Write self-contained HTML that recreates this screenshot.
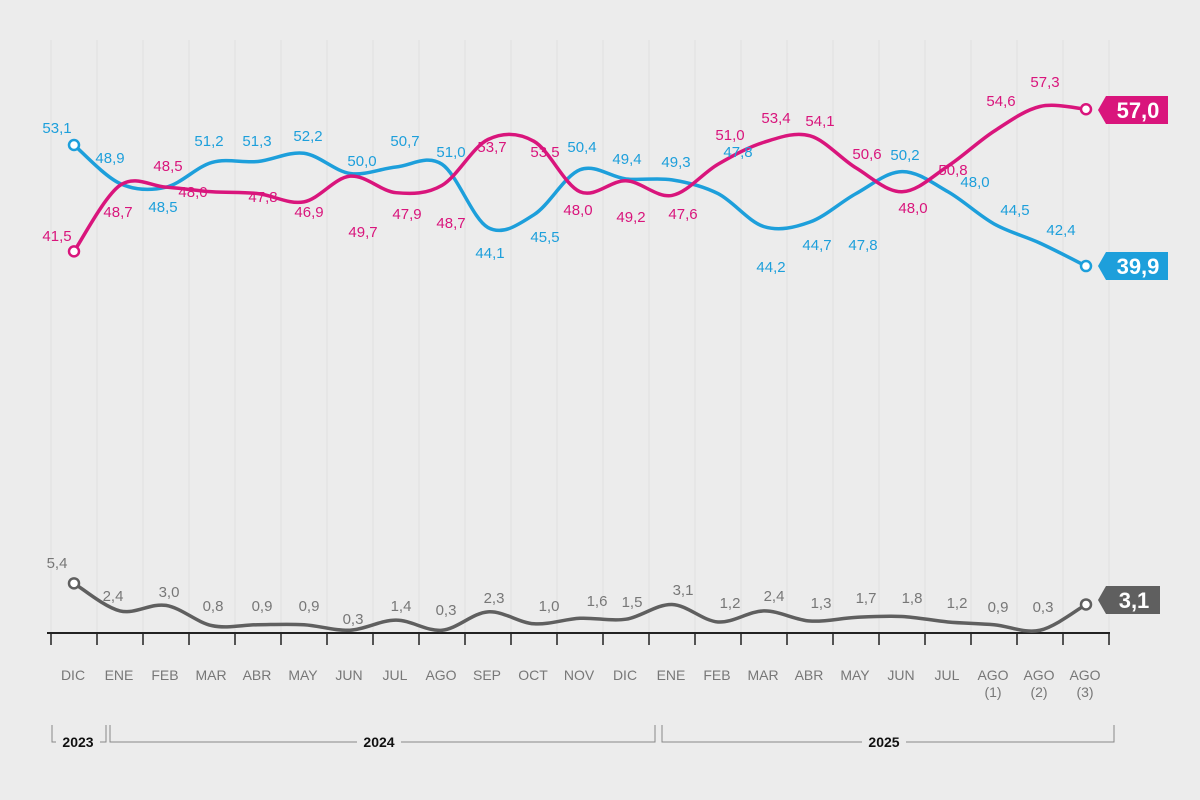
<!DOCTYPE html>
<html><head><meta charset="utf-8"><style>
html,body{margin:0;padding:0;background:#ececec;}
svg{display:block;font-family:"Liberation Sans",Arial,sans-serif;}
</style></head><body>
<svg id="s" width="1200" height="800" viewBox="0 0 1200 800" xmlns="http://www.w3.org/2000/svg"></svg>
<script>
const S=document.getElementById('s');let h='';
const X=i=>74+46*i;
const Ym=v=>145+(53.1-v)*9.17, Yg=v=>633-v*9.2;
const blue=[53.1,48.9,48.5,51.2,51.3,52.2,50.0,50.7,51.0,44.1,45.5,50.4,49.4,49.3,47.8,44.2,44.7,47.8,50.2,48.0,44.5,42.4,39.9];
const pink=[41.5,48.7,48.5,48.0,47.8,46.9,49.7,47.9,48.7,53.7,53.5,48.0,49.2,47.6,51.0,53.4,54.1,50.6,48.0,50.8,54.6,57.3,57.0];
const gray=[5.4,2.4,3.0,0.8,0.9,0.9,0.3,1.4,0.3,2.3,1.0,1.6,1.5,3.1,1.2,2.4,1.3,1.7,1.8,1.2,0.9,0.3,3.1];
for(let k=0;k<24;k++){const x=51+46*k;h+=`<line x1="${x}" y1="40" x2="${x}" y2="633" stroke="#e1e1e1" stroke-width="1"/>`;h+=`<line x1="${x}" y1="633" x2="${x}" y2="645" stroke="#222" stroke-width="1.5"/>`;}
h+=`<line x1="47" y1="633" x2="1110" y2="633" stroke="#222" stroke-width="2"/>`;
function cr(pts){const n=pts.length;let p=`M${pts[0][0]},${pts[0][1]}`;
for(let i=0;i<n-1;i++){const p0=pts[Math.max(0,i-1)],p1=pts[i],p2=pts[i+1],p3=pts[Math.min(n-1,i+2)];
p+=` C${p1[0]+(p2[0]-p0[0])/6},${p1[1]+(p2[1]-p0[1])/6} ${p2[0]-(p3[0]-p1[0])/6},${p2[1]-(p3[1]-p1[1])/6} ${p2[0]},${p2[1]}`;}return p;}
function series(vals,Y,c){const pts=vals.map((v,i)=>[X(i),Y(v)]);h+=`<path d="${cr(pts)}" fill="none" stroke="${c}" stroke-width="3.5" stroke-linecap="round"/>`;
[0,vals.length-1].forEach(i=>{h+=`<circle cx="${pts[i][0]}" cy="${pts[i][1]}" r="5" fill="#fff" stroke="${c}" stroke-width="2.5"/>`});}
series(gray,Yg,'#5f5f5f');series(blue,Ym,'#1d9fdb');series(pink,Ym,'#d9157c');
function labels(arr,c){arr.forEach(([x,y,t])=>{h+=`<text x="${x}" y="${y+5}" text-anchor="middle" font-size="15" fill="${c}">${t}</text>`});}
labels([[57,128,'53,1'],[110,158,'48,9'],[163,207,'48,5'],[209,141,'51,2'],[257,141,'51,3'],[308,136,'52,2'],[362,161,'50,0'],[405,141,'50,7'],[451,152,'51,0'],[490,253,'44,1'],[545,237,'45,5'],[582,147,'50,4'],[627,159,'49,4'],[676,162,'49,3'],[738,152,'47,8'],[771,267,'44,2'],[817,245,'44,7'],[863,245,'47,8'],[905,155,'50,2'],[975,182,'48,0'],[1015,210,'44,5'],[1061,230,'42,4']],'#1d9fdb');
labels([[57,236,'41,5'],[118,212,'48,7'],[168,166,'48,5'],[193,192,'48,0'],[263,197,'47,8'],[309,212,'46,9'],[363,232,'49,7'],[407,214,'47,9'],[451,223,'48,7'],[492,147,'53,7'],[545,152,'53,5'],[578,210,'48,0'],[631,217,'49,2'],[683,214,'47,6'],[730,135,'51,0'],[776,118,'53,4'],[820,121,'54,1'],[867,154,'50,6'],[913,208,'48,0'],[953,170,'50,8'],[1001,101,'54,6'],[1045,82,'57,3']],'#d9157c');
labels([[57,563,'5,4'],[113,596,'2,4'],[169,592,'3,0'],[213,606,'0,8'],[262,606,'0,9'],[309,606,'0,9'],[353,619,'0,3'],[401,606,'1,4'],[446,610,'0,3'],[494,598,'2,3'],[549,606,'1,0'],[597,601,'1,6'],[632,602,'1,5'],[683,590,'3,1'],[730,603,'1,2'],[774,596,'2,4'],[821,603,'1,3'],[866,598,'1,7'],[912,598,'1,8'],[957,603,'1,2'],[998,607,'0,9'],[1043,607,'0,3']],'#777');
function tag(y,t,c,x2){h+=`<polygon points="1098,${y} 1106,${y-14} ${x2},${y-14} ${x2},${y+14} 1106,${y+14}" fill="${c}"/><text x="${(1106+x2)/2+1}" y="${y+8}" text-anchor="middle" font-size="22" font-weight="bold" fill="#fff">${t}</text>`;}
tag(110,'57,0','#d9157c',1168);tag(266,'39,9','#1d9fdb',1168);tag(600,'3,1','#5f5f5f',1160);
const mon=['DIC','ENE','FEB','MAR','ABR','MAY','JUN','JUL','AGO','SEP','OCT','NOV','DIC','ENE','FEB','MAR','ABR','MAY','JUN','JUL','AGO','AGO','AGO'];
mon.forEach((m,i)=>{h+=`<text x="${X(i)-1}" y="680" text-anchor="middle" font-size="14" fill="#777">${m}</text>`;});
['(1)','(2)','(3)'].forEach((t,j)=>{h+=`<text x="${X(20+j)-1}" y="697" text-anchor="middle" font-size="14" fill="#777">${t}</text>`;});
const st='stroke="#888" stroke-width="1" fill="none"';
h+=`<polyline points="52,725 52,742 56,742" ${st}/><polyline points="100,742 106,742 106,725" ${st}/>`;
h+=`<polyline points="110,725 110,742 357,742" ${st}/><polyline points="401,742 655,742 655,725" ${st}/>`;
h+=`<polyline points="662,725 662,742 862,742" ${st}/><polyline points="906,742 1114,742 1114,725" ${st}/>`;
[[78,'2023'],[379,'2024'],[884,'2025']].forEach(([x,t])=>{h+=`<text x="${x}" y="747" text-anchor="middle" font-size="14" font-weight="bold" fill="#111">${t}</text>`;});
S.innerHTML=h;
</script>
</body></html>
